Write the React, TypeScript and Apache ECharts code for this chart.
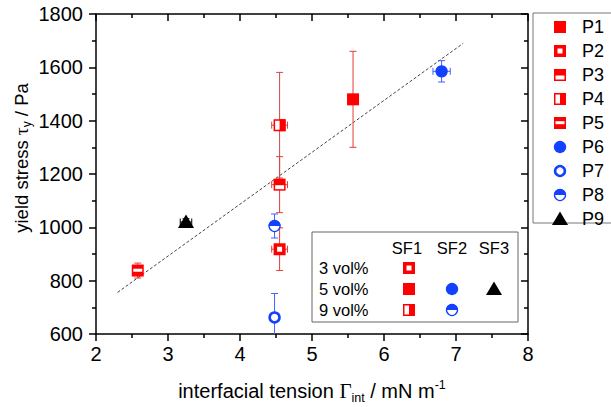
import React, { useEffect, useRef } from 'react';
import * as echarts from 'echarts';

// ---- data ----
const pointNames = ['P1', 'P2', 'P3', 'P4', 'P5', 'P6', 'P7', 'P8', 'P9'];
const tension = [5.57, 4.55, 4.55, 4.55, 2.58, 6.8, 4.48, 4.48, 3.25];
const tensionErr = [0.03, 0.11, 0.11, 0.11, 0.05, 0.12, 0.04, 0.04, 0.08];
const yieldStress = [1480, 918, 1160, 1383, 838, 1585, 662, 1005, 1020];
const yieldStressErr = [180, 80, 105, 198, 28, 40, 90, 45, 12];
const fitTension = [2.3, 7.1];
const fitStress = [756, 1690];
const insetRows = ['3 vol%', '5 vol%', '9 vol%'];
const insetCols = ['SF1', 'SF2', 'SF3'];
const insetCells = [
  ['P2', '', ''],
  ['P1', 'P6', 'P9'],
  ['P4', 'P8', ''],
];

// ---- styles ----
const FONT = "'Liberation Sans', Arial, sans-serif";
const SERIF = "'Liberation Serif', 'Times New Roman', serif";
const RED = '#ff0000';
const BLUE = '#1440ff';
const MARKER: Record<string, string> = {
  P1: 'filledSquare',
  P2: 'hollowSquare',
  P3: 'topFilledSquare',
  P4: 'rightFilledSquare',
  P5: 'stripeSquare',
  P6: 'filledCircle',
  P7: 'ringCircle',
  P8: 'halfCircle',
  P9: 'triangle',
};
const ERR_COLOR: Record<string, string> = {
  P1: '#e83a3a', P2: '#e83a3a', P3: '#e83a3a', P4: '#c84a4a', P5: '#e83a3a',
  P6: '#4060ff', P7: '#4060ff', P8: '#4060ff', P9: '#000000',
};

function markerShapes(kind: string, cx: number, cy: number): any[] {
  switch (kind) {
    case 'filledSquare':
      return [{ type: 'rect', shape: { x: cx - 6, y: cy - 6, width: 12, height: 12 }, style: { fill: RED } }];
    case 'hollowSquare':
      return [{ type: 'rect', shape: { x: cx - 4.25, y: cy - 4.25, width: 8.5, height: 8.5 }, style: { fill: '#fff', stroke: RED, lineWidth: 3.5 } }];
    case 'topFilledSquare':
      return [
        { type: 'rect', shape: { x: cx - 6, y: cy - 6, width: 12, height: 12 }, style: { fill: RED } },
        { type: 'rect', shape: { x: cx - 4.5, y: cy + 0.5, width: 9, height: 4 }, style: { fill: '#fff' } },
      ];
    case 'stripeSquare':
      return [
        { type: 'rect', shape: { x: cx - 6, y: cy - 6, width: 12, height: 12 }, style: { fill: RED } },
        { type: 'rect', shape: { x: cx - 4.5, y: cy - 1.8, width: 9, height: 3 }, style: { fill: '#fff' } },
      ];
    case 'rightFilledSquare':
      return [
        { type: 'rect', shape: { x: cx - 5.25, y: cy - 5.25, width: 10.5, height: 10.5 }, style: { fill: '#fff', stroke: RED, lineWidth: 1.5 } },
        { type: 'rect', shape: { x: cx, y: cy - 6, width: 6, height: 12 }, style: { fill: RED } },
      ];
    case 'filledCircle':
      return [{ type: 'circle', shape: { cx, cy, r: 6.2 }, style: { fill: BLUE } }];
    case 'ringCircle':
      return [{ type: 'circle', shape: { cx, cy, r: 4.9 }, style: { fill: '#fff', stroke: BLUE, lineWidth: 2.6 } }];
    case 'halfCircle':
      return [
        { type: 'circle', shape: { cx, cy, r: 5.5 }, style: { fill: '#fff', stroke: BLUE, lineWidth: 1.3 } },
        { type: 'sector', shape: { cx, cy, r: 6.1, r0: 0, startAngle: Math.PI, endAngle: Math.PI * 2, clockwise: true }, style: { fill: BLUE } },
      ];
    case 'triangle':
      return [{ type: 'polygon', shape: { points: [[cx, cy - 7.5], [cx - 8, cy + 6], [cx + 8, cy + 6]] }, style: { fill: '#000' } }];
    default:
      return [];
  }
}

function buildOption(): any {
  const errorRows = pointNames.map((n, i) => [tension[i], yieldStress[i], tensionErr[i], yieldStressErr[i], i]);

  const errorSeries = {
    type: 'custom',
    name: 'errors',
    coordinateSystem: 'cartesian2d',
    clip: true,
    z: 3,
    encode: { x: 0, y: 1 },
    data: errorRows,
    renderItem: (params: any, api: any) => {
      const x = api.value(0), y = api.value(1), ex = api.value(2), ey = api.value(3), idx = api.value(4);
      const color = ERR_COLOR[pointNames[idx]];
      const st = { stroke: color, lineWidth: 1, fill: 'none' };
      const t = api.coord([x, y + ey]);
      const b = api.coord([x, y - ey]);
      const l = api.coord([x - ex, y]);
      const r = api.coord([x + ex, y]);
      const cap = 3.5;
      const children: any[] = [];
      if (ey > 0) {
        children.push({ type: 'line', shape: { x1: t[0], y1: t[1], x2: b[0], y2: b[1] }, style: st });
        children.push({ type: 'line', shape: { x1: t[0] - cap, y1: t[1], x2: t[0] + cap, y2: t[1] }, style: st });
        children.push({ type: 'line', shape: { x1: b[0] - cap, y1: b[1], x2: b[0] + cap, y2: b[1] }, style: st });
      }
      if (ex > 0) {
        children.push({ type: 'line', shape: { x1: l[0], y1: l[1], x2: r[0], y2: r[1] }, style: st });
        children.push({ type: 'line', shape: { x1: l[0], y1: l[1] - cap, x2: l[0], y2: l[1] + cap }, style: st });
        children.push({ type: 'line', shape: { x1: r[0], y1: r[1] - cap, x2: r[0], y2: r[1] + cap }, style: st });
      }
      return { type: 'group', children };
    },
  };

  const markerSeries = pointNames.map((name, i) => ({
    type: 'custom',
    name,
    coordinateSystem: 'cartesian2d',
    z: 4,
    encode: { x: 0, y: 1 },
    data: [[tension[i], yieldStress[i]]],
    renderItem: (params: any, api: any) => {
      const c = api.coord([api.value(0), api.value(1)]);
      return { type: 'group', children: markerShapes(MARKER[name], c[0], c[1]) };
    },
  }));

  const fitSeries = {
    type: 'line',
    name: 'fit',
    data: fitTension.map((x, i) => [x, fitStress[i]]),
    symbol: 'none',
    z: 2,
    lineStyle: { color: '#444', width: 1, type: [3, 2] },
  };

  const axisLine = { show: true, onZero: false, lineStyle: { color: '#000', width: 1.5 } };
  const label = { color: '#000', fontSize: 20, fontFamily: FONT, formatter: (v: number) => String(v) };

  // legends drawn with graphic elements (multi-coloured markers)
  const legendChildren: any[] = [
    { type: 'rect', shape: { x: 533, y: 13, width: 100, height: 210 }, style: { fill: '#fff', stroke: '#777', lineWidth: 1 } },
  ];
  pointNames.forEach((name, i) => {
    const cy = 27 + 24 * i;
    legendChildren.push(...markerShapes(MARKER[name], 560, cy));
    legendChildren.push({
      type: 'text',
      style: { text: name, x: 582, y: cy, fontSize: 18, fontFamily: FONT, fill: '#000', align: 'left', verticalAlign: 'middle' },
    });
  });

  const insetChildren: any[] = [
    { type: 'rect', shape: { x: 312, y: 232, width: 206, height: 90 }, style: { fill: '#fff', stroke: '#666', lineWidth: 1 } },
  ];
  const colX = [407, 452, 494];
  const rowY = [268, 289, 310];
  insetCols.forEach((c, j) => {
    insetChildren.push({
      type: 'text',
      style: { text: c, x: colX[j], y: 248, fontSize: 16.5, fontFamily: FONT, fill: '#000', align: 'center', verticalAlign: 'middle' },
    });
  });
  insetRows.forEach((r, i) => {
    insetChildren.push({
      type: 'text',
      style: { text: r, x: 319, y: rowY[i], fontSize: 16.5, fontFamily: FONT, fill: '#000', align: 'left', verticalAlign: 'middle' },
    });
    insetCells[i].forEach((p, j) => {
      if (p) insetChildren.push(...markerShapes(MARKER[p], colX[j] + (j === 0 ? 2 : 0), rowY[i]));
    });
  });

  return {
    animation: false,
    backgroundColor: '#fff',
    grid: { left: 96, right: 83, top: 14, bottom: 73, containLabel: false, outerBoundsMode: 'none' },
    xAxis: [
      {
        type: 'value', position: 'bottom', min: 2, max: 8, interval: 1,
        axisLine,
        axisTick: { show: true, inside: false, length: 7, lineStyle: { color: '#000', width: 1.5 } },
        minorTick: { show: true, splitNumber: 2, length: 4, lineStyle: { color: '#000', width: 1.5 } },
        splitLine: { show: false },
        axisLabel: { ...label, margin: 10 },
      },
      {
        type: 'value', position: 'top', min: 2, max: 8, interval: 1,
        axisLine,
        axisTick: { show: true, inside: true, length: 7, lineStyle: { color: '#000', width: 1.5 } },
        minorTick: { show: true, splitNumber: 2, length: 4, lineStyle: { color: '#000', width: 1.5 } },
        splitLine: { show: false },
        axisLabel: { show: false },
      },
    ],
    yAxis: [
      {
        type: 'value', position: 'left', min: 600, max: 1800, interval: 200,
        axisLine,
        axisTick: { show: true, inside: false, length: 7, lineStyle: { color: '#000', width: 1.5 } },
        minorTick: { show: true, splitNumber: 2, length: 4, lineStyle: { color: '#000', width: 1.5 } },
        splitLine: { show: false },
        axisLabel: { ...label, margin: 13 },
      },
      {
        type: 'value', position: 'right', min: 600, max: 1800, interval: 200,
        axisLine,
        axisTick: { show: true, inside: true, length: 7, lineStyle: { color: '#000', width: 1.5 } },
        minorTick: { show: true, splitNumber: 2, length: 4, lineStyle: { color: '#000', width: 1.5 } },
        splitLine: { show: false },
        axisLabel: { show: false },
      },
    ],
    series: [fitSeries, errorSeries, ...markerSeries],
    graphic: [
      { type: 'group', z: 10, children: insetChildren },
      { type: 'group', z: 10, children: legendChildren },
      {
        type: 'text',
        z: 10,
        style: {
          x: 312, y: 391,
          text: 'interfacial tension {g|Γ}{sub|int} / mN m{sup|-1}',
          fontSize: 20, fontFamily: FONT, fill: '#000', align: 'center', verticalAlign: 'middle',
          rich: {
            g: { fontSize: 21, fontFamily: SERIF, fill: '#000', lineHeight: 26, verticalAlign: 'middle' },
            sub: { fontSize: 12.5, fontFamily: FONT, fill: '#000', lineHeight: 12, verticalAlign: 'bottom' },
            sup: { fontSize: 12.5, fontFamily: FONT, fill: '#000', lineHeight: 12, verticalAlign: 'top' },
          },
        },
      },
      {
        type: 'text',
        z: 10,
        x: 21, y: 158,
        rotation: Math.PI / 2,
        style: {
          x: 0, y: 0,
          text: 'yield stress {g|τ}{sub|y} / Pa',
          fontSize: 18.5, fontFamily: FONT, fill: '#000', align: 'center', verticalAlign: 'middle',
          rich: {
            g: { fontSize: 19.5, fontFamily: SERIF, fill: '#000', lineHeight: 24, verticalAlign: 'middle' },
            sub: { fontSize: 12, fontFamily: FONT, fill: '#000', lineHeight: 12, verticalAlign: 'bottom' },
          },
        },
      },
    ],
  };
}

export default function App() {
  const ref = useRef<HTMLDivElement>(null);
  useEffect(() => {
    if (!ref.current) return;
    const chart = echarts.init(ref.current, null, { renderer: 'svg' });
    chart.setOption(buildOption());
    return () => chart.dispose();
  }, []);
  return <div ref={ref} style={{ position: 'fixed', left: 0, top: 0, width: 611, height: 407, background: '#fff' }} />;
}
